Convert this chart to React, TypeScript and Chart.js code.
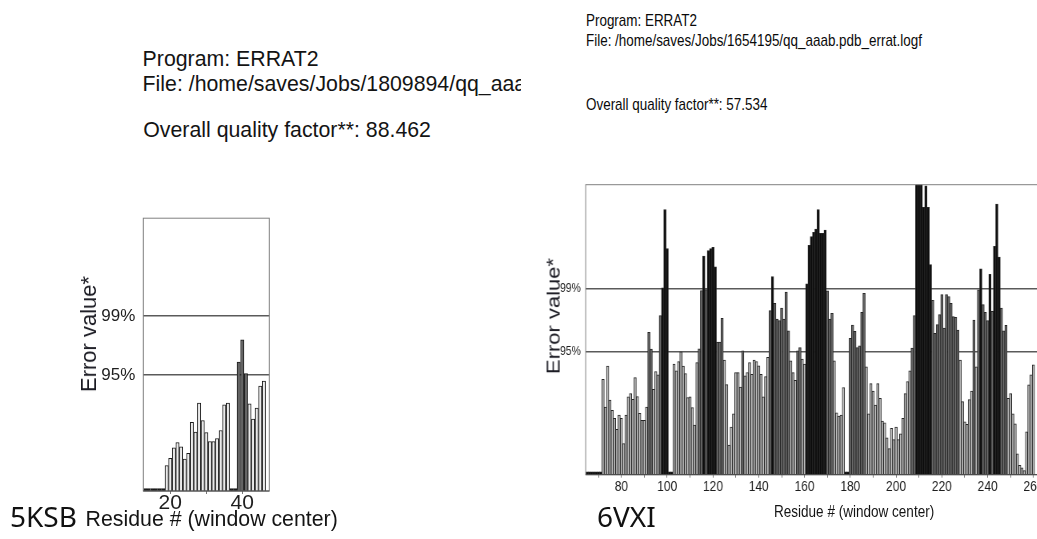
import React, { useEffect, useRef } from 'react';
import { Chart, registerables } from 'chart.js';

Chart.register(...registerables);

// ---- ERRAT thresholds and axis ----
const THRESH_95 = 11.38;
const THRESH_99 = 17.19;
const Y_MAX = 26.8;
const yTickValues = [THRESH_95, THRESH_99];
const yTickLabels = ['95%', '99%'];

// ---- 5KSB (left panel) ----
const startResL = 13;
const errL = [
  0.25, 0.25, 0.25, 0.25, 0.25, 0.25,
  2.51, 3.22, 4.25, 4.77, 4.35, 3.16, 3.71, 6.77, 5.8, 8.64, 6.93, 5.74, 4.87, 4.87, 5.16, 5.96, 8.48, 8.64,
  0.25, 0.25,
  12.67, 14.86, 11.54, 8.57, 7.09, 8.15, 10.31, 10.8,
];
const xTicksL = [20, 30, 40];
const xLabelsL = [20, 40];

// ---- 6VXI (right panel) ----
const startResR = 65;
const errR = [
  0.25, 0.25, 0.25, 0.25, 0.25, 0.25, 0.25,
  8.81, 6.25, 10.02, 6.9, 5.94, 5.2, 4.18, 5.51, 5.2, 2.88, 5.51, 7.18, 7.49, 6.96, 8.97, 7.21, 5.66, 5.01, 5.01, 6.25,
  13.15, 11.6, 7.89, 9.53, 9.22, 14.69, 17.26, 24.5, 20.88,
  0.25, 0.25,
  10.21, 9.59, 10.45, 11.35, 10.02, 9.34, 7.11, 7.18, 6.19, 4.58,
  10.36, 11.63,
  17.0, 20.2, 17.1, 20.7, 20.9, 21.0, 19.2,
  12.25, 12.25, 14.44, 10.58, 8.32, 2.72, 4.39, 5.63, 9.43, 9.43, 8.1, 11.44, 9.12, 9.43, 10.36, 9.28, 10.58, 10.45,
  10.05, 9.28, 7.18, 9.06, 10.83, 15.16, 18.31, 15.84, 14.38, 14.23, 15.4, 14.38, 16.86, 13.3, 10.52, 9.43, 8.72,
  11.44, 11.75, 10.67, 10.21, 17.63, 21.19,
  22.0, 22.4, 22.7, 24.5, 22.3, 22.3, 22.6,
  16.98, 14.38, 14.91, 10.52, 5.72, 5.41, 5.51, 8.04,
  0.25, 0.25,
  12.59, 13.83, 13.24, 11.75, 11.91, 15.0, 16.76, 9.96, 5.63, 8.41, 7.73, 6.43, 8.41, 7.05, 4.95, 4.79, 3.4, 2.41,
  4.27, 3.25, 4.39, 3.25, 3.77, 5.2, 7.49, 8.6, 9.59, 11.69, 14.69,
  27.5, 27.5, 27.5, 24.7, 26.7, 24.7, 19.4,
  16.1, 13.05, 13.86, 14.78, 16.64, 13.55, 16.64, 16.45, 15.84, 14.6, 14.54, 13.36, 10.58, 6.74, 4.89, 4.64, 6.93,
  7.73, 14.29, 9.96, 17.07, 19.02, 15.71, 15.0, 14.23, 18.5, 15.1, 21.1, 25.0, 20.1, 15.4, 13.3, 13.8, 7.05, 7.49,
  5.63, 4.7, 1.92, 0.87, 0.62, 0.37, 3.96, 8.29, 9.22, 10.14,
];
const xTicksR = [70, 80, 90, 100, 110, 120, 130, 140, 150, 160, 170, 180, 190, 200, 210, 220, 230, 240, 250, 260, 270, 280, 290];
const xLabelsR = [80, 100, 120, 140, 160, 180, 200, 220, 240, 260, 280];

const SANS = "'Liberation Sans', Arial, Helvetica, sans-serif";
const NOTO = "'Noto Sans', 'Open Sans', sans-serif";

const framePlugin = {
  id: 'frame',
  afterDatasetsDraw(chart: any) {
    const { ctx, chartArea: a } = chart;
    ctx.save();
    ctx.strokeStyle = '#808080';
    ctx.lineWidth = 1;
    ctx.strokeRect(a.left, a.top, a.right - a.left, a.bottom - a.top);
    ctx.strokeStyle = '#404040';
    ctx.beginPath();
    ctx.moveTo(a.left, a.bottom);
    ctx.lineTo(a.right, a.bottom);
    ctx.stroke();
    ctx.restore();
  },
};

function buildChart(canvas: HTMLCanvasElement, o: any) {
  const residues = o.values.map((_: number, i: number) => o.start + i);
  const data = o.values.map((v: number, i: number) => ({ x: residues[i], y: v }));
  const bg = o.values.map((v: number) =>
    v <= 0.3 ? o.colors.black : v >= THRESH_99 ? o.colors.black : v >= THRESH_95 ? o.colors.gray : o.colors.light
  );
  return new Chart(canvas, {
    type: 'bar',
    data: {
      datasets: [
        {
          data,
          backgroundColor: bg,
          borderColor: o.colors.edge,
          borderWidth: o.barBorder,
          borderSkipped: 'start',
          barPercentage: 1,
          categoryPercentage: 1,
          inflateAmount: o.inflate,
        } as any,
      ],
    },
    options: {
      animation: false,
      responsive: false,
      maintainAspectRatio: false,
      events: [],
      layout: { padding: { left: 0, top: o.plot.top, right: o.canvasW - o.plot.right, bottom: 0 } },
      plugins: { legend: { display: false }, tooltip: { enabled: false }, title: { display: false } },
      scales: {
        x: {
          type: 'linear',
          min: o.xMin,
          max: o.xMax,
          offset: false,
          afterBuildTicks: (s: any) => {
            s.ticks = o.xTicks.map((v: number) => ({ value: v }));
          },
          afterFit: (s: any) => {
            s.height = o.canvasH - o.plot.bottom;
          },
          grid: { display: true, drawOnChartArea: false, drawTicks: true, tickLength: o.xTickLen, color: '#777', offset: false },
          border: { display: false },
          ticks: {
            autoSkip: false,
            maxRotation: 0,
            minRotation: 0,
            padding: o.xPad,
            color: '#1e1e1e',
            font: { family: SANS, size: o.xFont },
            callback: (v: any) => (o.xLabels.includes(v) ? String(v) : ''),
          },
        },
        y: {
          type: 'linear',
          min: 0,
          max: Y_MAX,
          afterBuildTicks: (s: any) => {
            s.ticks = yTickValues.map((v) => ({ value: v }));
          },
          afterFit: (s: any) => {
            s.width = o.plot.left;
          },
          grid: { drawTicks: false, color: '#5a5a5a', lineWidth: 1.4 },
          border: { display: false },
          ticks: {
            padding: o.yPad,
            color: '#1e1e1e',
            font: { family: SANS, size: o.yFont },
            callback: (v: any) => {
              const i = yTickValues.indexOf(v);
              return i >= 0 ? yTickLabels[i] : '';
            },
          },
        },
      },
    } as any,
    plugins: [framePlugin],
  });
}

function Label(props: { text: string; left: number; baseline: number; size: number; family?: string; sx?: number; color?: string; asc?: number }) {
  const { text, left, baseline, size, family = SANS, sx = 1, color = '#141414', asc = 0.8465 } = props;
  return (
    <div
      style={{
        position: 'absolute',
        left,
        top: baseline - asc * size,
        fontFamily: family,
        fontSize: size,
        lineHeight: `${size}px`,
        whiteSpace: 'nowrap',
        color,
        transform: sx !== 1 ? `scaleX(${sx})` : undefined,
        transformOrigin: 'left top',
      }}
    >
      {text}
    </div>
  );
}

function VLabel(props: { text: string; cx: number; cy: number; size: number; sx?: number }) {
  const { text, cx, cy, size, sx = 1 } = props;
  return (
    <div
      style={{
        position: 'absolute',
        left: cx,
        top: cy,
        fontFamily: SANS,
        fontSize: size,
        lineHeight: `${size}px`,
        whiteSpace: 'nowrap',
        color: '#1a1a22',
        transform: `translate(-50%, -50%) scaleX(${sx}) rotate(-90deg)`,
      }}
    >
      {text}
    </div>
  );
}

// canvas geometry (page coordinates of plot rectangles)
const LEFT_CANVAS = { x: 60, y: 200, w: 240, h: 330, sx: 1 };
const RIGHT_CANVAS = { x: 500, y: 170, w: 900, h: 340, sx: 0.8 };

export default function App() {
  const leftRef = useRef<HTMLCanvasElement>(null);
  const rightRef = useRef<HTMLCanvasElement>(null);

  useEffect(() => {
    const L = LEFT_CANVAS;
    const R = RIGHT_CANVAS;
    const left = buildChart(leftRef.current!, {
      start: startResL,
      values: errL,
      xMin: 12.5,
      xMax: 47.5,
      xTicks: xTicksL,
      xLabels: xLabelsL,
      canvasW: L.w,
      canvasH: L.h,
      plot: { left: 143.3 - L.x, right: 269.3 - L.x, top: 214.3 - L.y, bottom: 491 - L.y },
      xFont: 21,
      yFont: 17,
      xTickLen: 3,
      xPad: -3,
      yPad: 8,
      barBorder: 1,
      inflate: 0.2,
      colors: { light: '#eaeaea', gray: '#646464', black: '#111111', edge: '#1c1c1c' },
    });
    const right = buildChart(rightRef.current!, {
      start: startResR,
      values: errR,
      xMin: 64.4,
      xMax: 300,
      xTicks: xTicksR,
      xLabels: xLabelsR,
      canvasW: R.w,
      canvasH: R.h,
      plot: {
        left: (585.7 - R.x) / R.sx,
        right: (1125 - R.x) / R.sx,
        top: 184.7 - R.y,
        bottom: 474.7 - R.y,
      },
      xFont: 15,
      yFont: 13,
      xTickLen: 3,
      xPad: 0,
      yPad: 6,
      barBorder: 1,
      inflate: 0.4,
      colors: { light: '#c2c2c2', gray: '#6c6c6c', black: '#0c0c0c', edge: '#262626' },
    });
    return () => {
      left.destroy();
      right.destroy();
    };
  }, []);

  return (
    <div style={{ position: 'absolute', left: 0, top: 0, width: 1037, height: 539, overflow: 'hidden', background: '#ffffff' }}>
      {/* left panel header */}
      <Label text="Program: ERRAT2" left={142.6} baseline={66.7} size={21.3} />
      <div style={{ position: 'absolute', left: 0, top: 0, width: 521, height: 110, overflow: 'hidden' }}>
        <Label text="File: /home/saves/Jobs/1809894/qq_aaab.pdb_errat.logf" left={142.6} baseline={92.3} size={21.3} />
      </div>
      <Label text="Overall quality factor**: 88.462" left={143.3} baseline={138.3} size={21.3} />

      {/* right panel header */}
      <Label text="Program: ERRAT2" left={585.6} baseline={26.7} size={17} sx={0.79} color="#0a0a0a" />
      <Label text="File: /home/saves/Jobs/1654195/qq_aaab.pdb_errat.logf" left={585.6} baseline={46.7} size={17} sx={0.79} color="#0a0a0a" />
      <Label text="Overall quality factor**: 57.534" left={585.9} baseline={110.5} size={17} sx={0.79} color="#0a0a0a" />

      <canvas
        ref={leftRef}
        width={LEFT_CANVAS.w}
        height={LEFT_CANVAS.h}
        style={{ position: 'absolute', left: LEFT_CANVAS.x, top: LEFT_CANVAS.y, width: LEFT_CANVAS.w * LEFT_CANVAS.sx, height: LEFT_CANVAS.h }}
      />
      <canvas
        ref={rightRef}
        width={RIGHT_CANVAS.w}
        height={RIGHT_CANVAS.h}
        style={{ position: 'absolute', left: RIGHT_CANVAS.x, top: RIGHT_CANVAS.y, width: RIGHT_CANVAS.w * RIGHT_CANVAS.sx, height: RIGHT_CANVAS.h }}
      />

      {/* axis titles */}
      <VLabel text="Error value*" cx={89} cy={334} size={22} />
      <VLabel text="Error value*" cx={554} cy={316} size={22} sx={0.8} />
      <Label text="Residue # (window center)" left={85.6} baseline={526.7} size={21.3} />
      <Label text="Residue # (window center)" left={773.9} baseline={516.7} size={16.5} sx={0.82} />

      {/* structure ids */}
      <Label text="5KSB" left={10} baseline={526.7} size={28} family={NOTO} asc={0.888} color="#111" />
      <Label text="6VXI" left={597} baseline={527.3} size={28} family={NOTO} asc={0.888} color="#111" />
    </div>
  );
}
